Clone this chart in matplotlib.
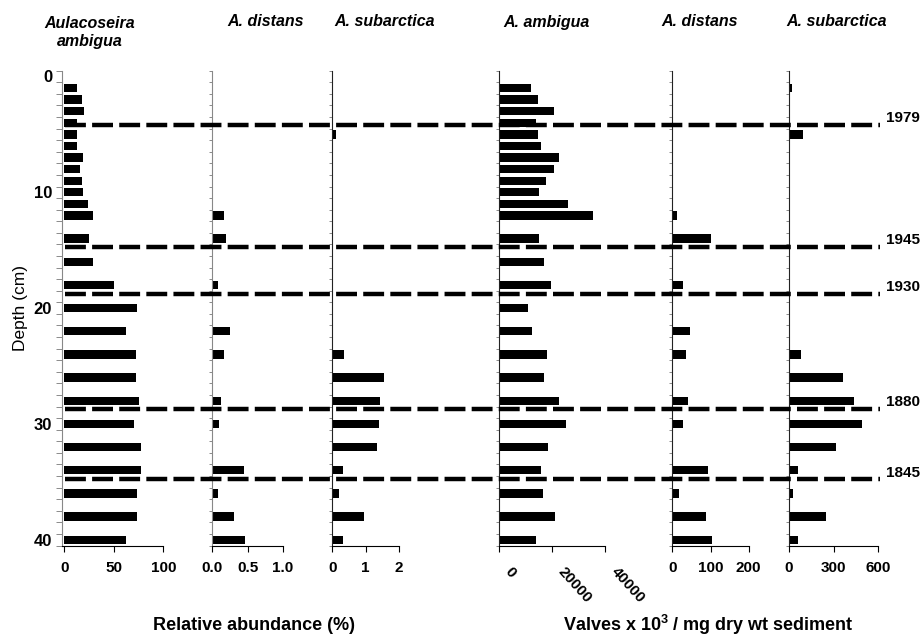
import matplotlib
matplotlib.use("Agg")
import matplotlib.pyplot as plt
import numpy as np
from matplotlib.lines import Line2D
from matplotlib.ticker import FixedLocator
from matplotlib.transforms import blended_transform_factory, ScaledTranslation, offset_copy

plt.rcParams['font.family'] = ['Liberation Sans', 'DejaVu Sans']
plt.rcParams['font.weight'] = 'bold'
plt.rcParams['mathtext.default'] = 'regular'

# sample depths (cm)
depth = [1, 2, 3, 4, 5, 6, 7, 8, 9, 10, 11, 12, 14, 16, 18,
         20, 22, 24, 26, 28, 30, 32, 34, 36, 38, 40]

# relative abundance (%)
ambigua_pct = [13, 18, 20, 13, 13, 13, 19, 16, 18, 19, 24, 29, 25, 29, 50,
               73, 62, 72, 72, 75, 70, 77, 77, 73, 73, 62]
distans_pct = [0, 0, 0, 0, 0, 0, 0, 0, 0, 0, 0, 0.17, 0.19, 0, 0.08,
               0, 0.25, 0.17, 0, 0.13, 0.10, 0, 0.45, 0.08, 0.31, 0.47]
subarctica_pct = [0, 0, 0, 0, 0.11, 0, 0, 0, 0, 0, 0, 0, 0, 0, 0,
                  0, 0, 0.35, 1.54, 1.44, 1.39, 1.35, 0.31, 0.19, 0.94, 0.31]

# concentrations (valves x 10^3 / mg dry wt sediment)
ambigua_val = [11960, 14700, 20500, 13700, 14700, 15600, 22600, 20500, 17600, 15100,
               26000, 35500, 15100, 17000, 19500, 10900, 12400, 18100, 17000, 22500,
               25000, 18500, 15600, 16600, 20900, 13700]
distans_val = [0, 0, 0, 0, 0, 0, 0, 0, 0, 0, 0, 11, 100, 0, 28,
               0, 46, 37, 0, 42, 28, 0, 93, 18, 87, 103]
subarctica_val = [24, 0, 0, 0, 98, 0, 0, 0, 0, 0, 0, 0, 0, 0, 0,
                  0, 0, 80, 362, 437, 493, 317, 60, 31, 252, 60]

titles = ["Aulacoseira\nambigua", "A. distans", "A. subarctica",
          "A. ambigua", "A. distans", "A. subarctica"]
title_x = [90, 266, 385, 546, 700, 837]

# horizon dates and their depths
years = ["1979", "1945", "1930", "1880", "1845"]
year_depth = [4.2, 14.7, 18.75, 28.75, 34.8]

W, H = 923, 637
fig = plt.figure(figsize=(W / 100, H / 100), dpi=100)

# panel extents in pixels: (left, right)
panels = [
    (61.8, 163.3, ambigua_pct, (-2.5, 100), [0, 50, 100], ["0", "50", "100"]),
    (212.3, 282.7, distans_pct, (0, 1.0), [0, 0.5, 1.0], ["0.0", "0.5", "1.0"]),
    (332.3, 399.0, subarctica_pct, (0, 2), [0, 1, 2], ["0", "1", "2"]),
    (499.3, 605.3, ambigua_val, (0, 40000), [0, 20000, 40000], ["0", "20000", "40000"]),
    (672.3, 748.7, distans_val, (0, 200), [0, 100, 200], ["0", "100", "200"]),
    (788.7, 878.3, subarctica_val, (0, 600), [0, 300, 600], ["0", "300", "600"]),
]
top_px, bot_px = 70.7, 545.5

axes = []
for i, (l, r, vals, xl, xt, xtl) in enumerate(panels):
    ax = fig.add_axes([l / W, 1 - bot_px / H, (r - l) / W, (bot_px - top_px) / H])
    ax.barh(depth, vals, height=0.72, color='black', linewidth=0)
    ax.set_xlim(*xl)
    ax.set_ylim(40.5, -0.5)
    ax.spines['top'].set_visible(False)
    ax.spines['right'].set_visible(False)
    ax.spines['left'].set_linewidth(0.8)
    ax.spines['left'].set_color('#888888' if i < 2 else '#222222')
    ax.spines['bottom'].set_linewidth(0.8)
    ax.set_xticks(xt)
    ax.set_xticklabels(xtl)
    ax.yaxis.set_major_locator(FixedLocator([0, 10, 20, 30, 40]))
    ax.yaxis.set_minor_locator(FixedLocator(np.arange(-0.5, 41, 1)))
    ax.tick_params(axis='x', length=4, width=0.8, pad=7, labelsize=11)
    ax.tick_params(axis='y', which='major', length=0, pad=7, labelsize=12)
    ax.tick_params(axis='y', which='minor', length=4 if i == 0 else 2,
                   width=0.6, color='#777777')
    if i > 0:
        ax.set_yticklabels([])
    else:
        ax.set_yticklabels(["0", "10", "20", "30", "40"])
    axes.append(ax)

axes[0].set_ylabel("Depth (cm)", fontsize=12.5, labelpad=4)

# slanted labels on the A. ambigua concentration axis
ax4 = axes[3]
ax4.tick_params(axis='x', pad=13)
shift = ScaledTranslation(0.08, 0, fig.dpi_scale_trans)
for lab in ax4.get_xticklabels():
    lab.set_rotation(-48)
    lab.set_rotation_mode('anchor')
    lab.set_ha('left')
    lab.set_va('center')
    lab.set_transform(lab.get_transform() + shift)

for t, x in zip(titles, title_x):
    yc = 32.5 if "\n" in t else 22
    fig.text(x / W, 1 - yc / H, t, ha='center', va='center', style='italic',
             fontsize=11.5, linespacing=1.3)

fig.text(254 / W, 1 - 626 / H, "Relative abundance (%)", ha='center', va='center',
         fontsize=13)
fig.text(708 / W, 1 - 625 / H, "Valves x 10$^3$ / mg dry wt sediment", ha='center',
         va='center', fontsize=13)

# dated horizons across all panels
trans = blended_transform_factory(fig.transFigure, axes[0].transData)
lab_trans = offset_copy(trans, fig=fig, y=5, units='points')
for yr, d in zip(years, year_depth):
    fig.add_artist(Line2D([65 / W, 880 / W], [d, d], transform=trans, color='black',
                          lw=3.2, linestyle=(0, (4.7, 1.4)), zorder=5))
    fig.text(886 / W, d, yr, transform=lab_trans, ha='left', va='center', fontsize=11)

fig.savefig("out.png", dpi=100)
